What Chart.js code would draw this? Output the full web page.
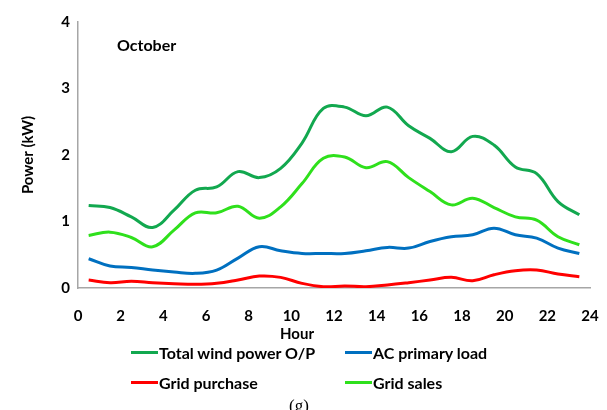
<!DOCTYPE html>
<html>
<head>
<meta charset="utf-8">
<script src="https://cdn.jsdelivr.net/npm/chart.js@4"></script>
<style>
  body { margin: 0; background: #fff; }
  #wrap { position: relative; width: 607px; height: 410px; font-family: Lato, "Open Sans", sans-serif; font-weight: bold; color: #000; }
  #wrap canvas { position: absolute; left: 0; top: 0; }
  .txt { position: absolute; white-space: nowrap; }
  .leg { position: absolute; font-size: 16px; display: flex; align-items: center; white-space: nowrap; }
  .leg span.sw { display: inline-block; width: 27px; height: 3px; margin-right: 1px; }
</style>
</head>
<body>
<div id="wrap">
  <canvas id="chart" width="607" height="410"></canvas>
  <div class="txt" style="left:117px; top:35px; font-size:16px;">October</div>
  <div class="txt" style="left:280px; top:324px; font-size:15px;">Hour</div>
  <div class="leg" style="left:131px; top:343px;"><span class="sw" style="background:#12a84f"></span>Total wind power O/P</div>
  <div class="leg" style="left:345px; top:343px;"><span class="sw" style="background:#0070c0"></span>AC primary load</div>
  <div class="leg" style="left:131px; top:373px;"><span class="sw" style="background:#ff0000"></span>Grid purchase</div>
  <div class="leg" style="left:345px; top:373px;"><span class="sw" style="background:#2fe01c"></span>Grid sales</div>
  <div class="txt" style="left:289px; top:396px; font-size:17px; font-weight:normal; font-family:'Liberation Serif', serif;">(g)</div>
</div>
<script>
const hours = [0.5, 1.5, 2.5, 3.5, 4.5, 5.5, 6.5, 7.5, 8.5, 9.5, 10.5, 11.5,
               12.5, 13.5, 14.5, 15.5, 16.5, 17.5, 18.5, 19.5, 20.5, 21.5, 22.5, 23.5];
const windOutput = [1.24, 1.21, 1.07, 0.91, 1.17, 1.47, 1.52, 1.75, 1.66, 1.8, 2.18, 2.7,
                    2.72, 2.59, 2.72, 2.44, 2.25, 2.05, 2.28, 2.15, 1.82, 1.72, 1.3, 1.1];
const primaryLoad = [0.44, 0.33, 0.31, 0.27, 0.24, 0.22, 0.27, 0.45, 0.62, 0.56, 0.52, 0.52,
                     0.52, 0.56, 0.61, 0.6, 0.7, 0.77, 0.8, 0.9, 0.8, 0.75, 0.6, 0.52];
const gridPurchase = [0.12, 0.08, 0.1, 0.08, 0.065, 0.055, 0.07, 0.12, 0.18, 0.16, 0.07, 0.02,
                      0.03, 0.02, 0.045, 0.08, 0.12, 0.16, 0.11, 0.2, 0.26, 0.27, 0.21, 0.17];
const gridSales = [0.79, 0.84, 0.76, 0.62, 0.87, 1.13, 1.13, 1.23, 1.05, 1.22, 1.57, 1.95,
                   1.97, 1.81, 1.9, 1.66, 1.45, 1.25, 1.35, 1.21, 1.07, 1.02, 0.77, 0.65];
const xTicks = [0, 2, 4, 6, 8, 10, 12, 14, 16, 18, 20, 22, 24];
const yTicks = [0, 1, 2, 3, 4];

function pts(vals) {
    return vals.map((v, i) => ({ x: hours[i], y: v }));
}

const tickFont = { family: 'Lato, "Open Sans", sans-serif', size: 15, weight: 'bold' };

new Chart(document.getElementById("chart"), {
    type: 'line',
    data: {
        datasets: [
            { label: "Total wind power O/P", data: pts(windOutput), borderColor: "#12a84f" },
            { label: "Grid sales", data: pts(gridSales), borderColor: "#2fe01c" },
            { label: "AC primary load", data: pts(primaryLoad), borderColor: "#0070c0" },
            { label: "Grid purchase", data: pts(gridPurchase), borderColor: "#ff0000" }
        ]
    },
    options: {
        responsive: false,
        animation: false,
        layout: { padding: { top: 22, right: 17, bottom: 65, left: 0 } },
        elements: {
            line: { borderWidth: 3, tension: 0.4, fill: false },
            point: { radius: 0 }
        },
        plugins: { legend: { display: false }, tooltip: { enabled: false } },
        scales: {
            x: {
                type: 'linear', min: 0, max: 24,
                afterBuildTicks: s => { s.ticks = xTicks.map(v => ({ value: v })); },
                afterFit: s => { s.height = 57; s.paddingLeft = 0; s.paddingRight = 0; },
                grid: { display: false, drawTicks: false },
                border: { color: '#a6a6a6', width: 1.5 },
                ticks: { font: tickFont, color: '#000', padding: 19, maxRotation: 0 }
            },
            y: {
                min: 0, max: 4,
                afterBuildTicks: s => { s.ticks = yTicks.map(v => ({ value: v })); },
                afterFit: s => { s.width = 78; s.paddingTop = 0; s.paddingBottom = 0; },
                grid: { display: false, drawTicks: false },
                border: { color: '#a6a6a6', width: 1.5 },
                ticks: { font: tickFont, color: '#000', padding: 8 },
                title: { display: true, text: 'Power (kW)', font: tickFont, color: '#000', padding: { top: 19 } }
            }
        }
    }
});
</script>
</body>
</html>
